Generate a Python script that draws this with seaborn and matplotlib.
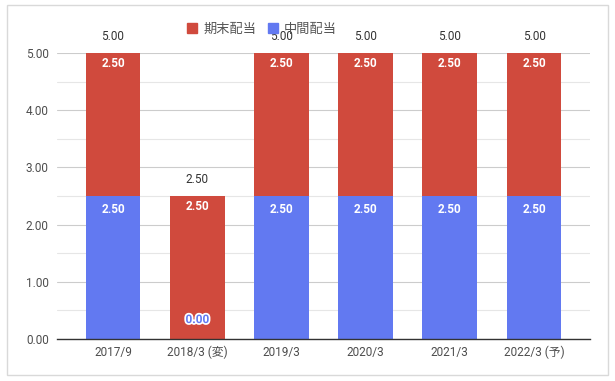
import matplotlib
matplotlib.use("Agg")
import matplotlib.pyplot as plt
import seaborn as sns
import pandas as pd
from matplotlib.patches import Rectangle, Patch
from matplotlib.ticker import MultipleLocator
import matplotlib.patheffects as pe

# dividend data
periods = ['2017/9', '2018/3 (変)', '2019/3', '2020/3', '2021/3', '2022/3 (予)']
interim = [2.50, 0.00, 2.50, 2.50, 2.50, 2.50]     # 中間配当
year_end = [2.50, 2.50, 2.50, 2.50, 2.50, 2.50]    # 期末配当

RED = '#d04a3d'
BLUE = '#6279f1'

sns.set_theme(style="white")
plt.rcParams['font.family'] = ['Roboto', 'Noto Sans CJK JP', 'DejaVu Sans']

df = pd.DataFrame({'period': periods, 'interim': interim, 'year_end': year_end})
df['total'] = df['interim'] + df['year_end']

fig = plt.figure(figsize=(6.15, 3.81), dpi=100)
ax = fig.add_axes([57 / 615, 1 - 339 / 381, 533 / 615, 286 / 381])

# stacked bars: red drawn full height, blue on top of it at the bottom
sns.barplot(data=df, x='period', y='total', color=RED, saturation=1,
            width=0.65, ax=ax, zorder=3, linewidth=0)
sns.barplot(data=df, x='period', y='interim', color=BLUE, saturation=1,
            width=0.65, ax=ax, zorder=4, linewidth=0)

ax.set_xlim(-0.665, len(periods) - 1 + 0.665)
ax.set_ylim(0, 5)
ax.yaxis.set_major_locator(MultipleLocator(1))
ax.yaxis.set_minor_locator(MultipleLocator(0.5))
ax.yaxis.set_major_formatter(matplotlib.ticker.FormatStrFormatter('%.2f'))
ax.grid(axis='y', which='major', color='#cccccc', lw=0.8, zorder=0)
ax.grid(axis='y', which='minor', color='#e6e6e6', lw=0.8, zorder=0)
ax.set_axisbelow(True)
for s in ['top', 'right', 'left']:
    ax.spines[s].set_visible(False)
ax.spines['bottom'].set_color('#333333')
ax.spines['bottom'].set_linewidth(1.0)
ax.spines['bottom'].set_zorder(5)
ax.set_xlabel('')
ax.set_ylabel('')
ax.tick_params(axis='both', which='both', length=0, labelsize=8.5,
               colors='#4d4d4d')
ax.tick_params(axis='x', pad=5)
ax.tick_params(axis='y', pad=6)

# value labels
for i, row in df.iterrows():
    ax.annotate(f"{row['interim']:.2f}", (i, row['interim']),
                xytext=(0, -10) if row['interim'] > 0 else (0, 14),
                textcoords='offset points', ha='center', va='center',
                fontsize=8.5, fontweight='bold',
                color='white' if row['interim'] > 0 else BLUE, zorder=6,
                path_effects=None if row['interim'] > 0 else
                [pe.withStroke(linewidth=2.5, foreground='white')])
    ax.annotate(f"{row['year_end']:.2f}", (i, row['total']),
                xytext=(0, -7.5), textcoords='offset points',
                ha='center', va='center', fontsize=8.5, fontweight='bold',
                color='white', zorder=6)
    ax.annotate(f"{row['total']:.2f}", (i, row['total']),
                xytext=(0, 12), textcoords='offset points',
                ha='center', va='center', fontsize=8.5, color='#333333',
                annotation_clip=False, zorder=6)

handles = [Patch(color=RED, label='期末配当'), Patch(color=BLUE, label='中間配当')]
fig.legend(handles=handles, loc='center', bbox_to_anchor=(262 / 615, 1 - 29 / 381),
           ncol=2, frameon=False, fontsize=9.5, handlelength=0.8,
           handleheight=0.8, handletextpad=0.45, columnspacing=0.85,
           labelcolor='#555555')

# light frame around the chart
fig.patches.append(Rectangle((7 / 615, 1 - 375 / 381), 601 / 615, 370 / 381,
                             transform=fig.transFigure, fill=False,
                             edgecolor='#d9d9d9', lw=1))

fig.savefig('out.png', dpi=100)
